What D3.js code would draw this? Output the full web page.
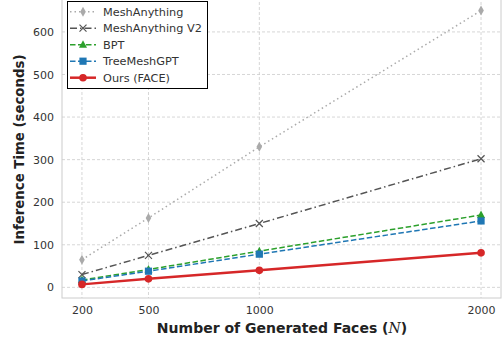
<!DOCTYPE html>
<html><head><meta charset="utf-8">
<script src="https://cdn.jsdelivr.net/npm/d3@7"></script>
<style>body{margin:0;background:#fff}svg{display:block;font-family:"DejaVu Sans",sans-serif}</style>
</head><body><svg id="c" width="503" height="339"></svg>
<script>
const faces = [200, 500, 1000, 2000];
const xTicks = [200, 500, 1000, 2000];
const yTicks = [0, 100, 200, 300, 400, 500, 600];
const names = ["MeshAnything", "MeshAnything V2", "BPT", "TreeMeshGPT", "Ours (FACE)"];
const meshAnything = [65, 163, 330, 650];
const meshAnythingV2 = [30, 75, 150, 302];
const bpt = [17, 42, 85, 170];
const treeMeshGPT = [15, 38, 78, 156];
const ours = [7, 20, 40, 81];
const seriesValues = [meshAnything, meshAnythingV2, bpt, treeMeshGPT, ours];

const styles = [
  {color:"#aaaaaa", dash:"1.5,3", width:1.5, marker:"diamond"},
  {color:"#555555", dash:"7,3,1.5,3", width:1.5, marker:"x"},
  {color:"#2ca02c", dash:"5.5,2.5", width:1.5, marker:"triangle"},
  {color:"#1f77b4", dash:"5.5,2.5", width:1.5, marker:"square"},
  {color:"#d62728", dash:null, width:2.5, marker:"circle"}
];

const svg = d3.select("#c");
const L = 62, R = 501, T = -3, B = 298;
const x = d3.scaleLinear().domain([110, 2090]).range([L, R]);
const y = d3.scaleLinear().domain([-25, 682]).range([B, T]);

// grid
const g = svg.append("g");
g.selectAll(".gx").data(xTicks).join("line")
  .attr("x1", d=>x(d)).attr("x2", d=>x(d)).attr("y1", T).attr("y2", B)
  .attr("stroke", "#cccccc").attr("stroke-width", 0.8).attr("stroke-dasharray", "3,2");
g.selectAll(".gy").data(yTicks).join("line")
  .attr("y1", d=>y(d)).attr("y2", d=>y(d)).attr("x1", L).attr("x2", R)
  .attr("stroke", "#cccccc").attr("stroke-width", 0.8).attr("stroke-dasharray", "3,2");

// axes via d3
const xAxis = svg.append("g").attr("transform", `translate(0,${B})`)
  .call(d3.axisBottom(x).tickValues(xTicks).tickSize(0).tickPadding(8).tickFormat(d3.format("d")));
const yAxis = svg.append("g").attr("transform", `translate(${L},0)`)
  .call(d3.axisLeft(y).tickValues(yTicks).tickSize(0).tickPadding(8).tickFormat(d3.format("d")));
[xAxis, yAxis].forEach(a => {
  a.select(".domain").remove();
  a.selectAll("text").attr("font-size", 11).attr("fill", "#333").attr("font-family", "DejaVu Sans");
});

// spines
svg.append("rect").attr("x", L).attr("y", T).attr("width", R-L).attr("height", B-T)
  .attr("fill", "none").attr("stroke", "#cccccc").attr("stroke-width", 1);

function marker(sel, type, color, cx, cy) {
  if (type === "circle") sel.append("circle").attr("cx", cx).attr("cy", cy).attr("r", 3.8).attr("fill", color);
  else if (type === "square") sel.append("rect").attr("x", cx-3.6).attr("y", cy-3.6).attr("width", 7.2).attr("height", 7.2).attr("fill", color);
  else if (type === "triangle") sel.append("path").attr("d", `M${cx},${cy-4.5}L${cx+4},${cy+3}L${cx-4},${cy+3}Z`).attr("fill", color);
  else if (type === "diamond") sel.append("path").attr("d", `M${cx},${cy-5}L${cx+2.8},${cy}L${cx},${cy+5}L${cx-2.8},${cy}Z`).attr("fill", color);
  else if (type === "x") sel.append("path").attr("d", `M${cx-3.5},${cy-3.5}L${cx+3.5},${cy+3.5}M${cx-3.5},${cy+3.5}L${cx+3.5},${cy-3.5}`).attr("stroke", color).attr("stroke-width", 1.2).attr("fill","none");
}

const line = d3.line().x((d,i)=>x(faces[i])).y(d=>y(d));
seriesValues.forEach((vals, si) => {
  const s = styles[si];
  const gg = svg.append("g");
  gg.append("path").attr("d", line(vals)).attr("fill", "none").attr("stroke", s.color)
    .attr("stroke-width", s.width).attr("stroke-dasharray", s.dash);
  vals.forEach((v,i)=> marker(gg, s.marker, s.color, x(faces[i]), y(v)));
});

// legend
const lg = svg.append("g");
lg.append("rect").attr("x", 67.5).attr("y", 1.5).attr("width", 140).attr("height", 87)
  .attr("fill", "#fff").attr("stroke", "#000").attr("stroke-width", 1);
names.forEach((n, i) => {
  const yy = 11.7 + i*16.5;
  const s = styles[i];
  lg.append("line").attr("x1", 70).attr("x2", 96).attr("y1", yy).attr("y2", yy)
    .attr("stroke", s.color).attr("stroke-width", s.width).attr("stroke-dasharray", s.dash);
  marker(lg, s.marker, s.color, 83, yy);
  lg.append("text").attr("x", 103).attr("y", yy).attr("dy", "0.35em")
    .attr("font-size", 11.3).attr("fill", "#333").text(n);
});

// axis labels
svg.append("text").attr("transform", `translate(19,${(y(682)+B)/2+2}) rotate(-90)`)
  .attr("text-anchor", "middle").attr("dy", "0.35em").attr("font-size", 13.3).attr("font-weight", "bold")
  .attr("fill", "#222").text("Inference Time (seconds)");
const xl = svg.append("text").attr("x", 282).attr("y", 333).attr("text-anchor", "middle")
  .attr("font-size", 14).attr("font-weight", "bold").attr("fill", "#222");
xl.append("tspan").text("Number of Generated Faces (");
xl.append("tspan").attr("font-style", "italic").attr("font-weight", "normal").attr("font-family", "DejaVu Serif").text("N");
xl.append("tspan").text(")");
</script></body></html>
